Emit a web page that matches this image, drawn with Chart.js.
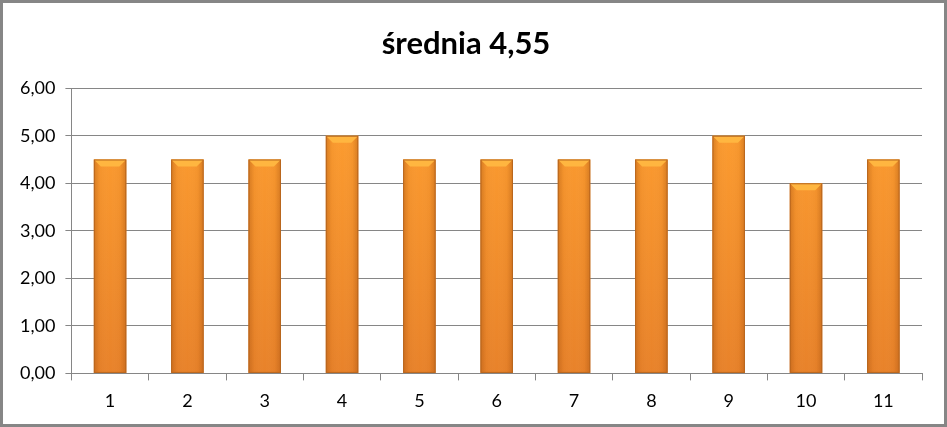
<!DOCTYPE html>
<html>
<head>
<meta charset="utf-8">
<script src="https://cdn.jsdelivr.net/npm/chart.js@4"></script>
<style>
  html, body { margin: 0; padding: 0; background: #fff; }
  #wrap {
    width: 947px; height: 427px; box-sizing: border-box;
    border: 3px solid #868686; position: relative;
  }
  canvas { display: block; }
</style>
</head>
<body>
<div id="wrap"><canvas id="chart"></canvas></div>
<script>
const categories = ["1", "2", "3", "4", "5", "6", "7", "8", "9", "10", "11"];
const values = [4.5, 4.5, 4.5, 5, 4.5, 4.5, 4.5, 4.5, 5, 4, 4.5];
const titleText = "średnia 4,55";

// bevel + side shading on each bar (uses bar element positions from the scales)
const bevel = {
  id: "bevel",
  afterDatasetsDraw(chart) {
    const ctx = chart.ctx;
    chart.getDatasetMeta(0).data.forEach((bar) => {
      const left = bar.x - bar.width / 2;
      const right = bar.x + bar.width / 2;
      const top = bar.y;
      const bottom = bar.base;
      const g = ctx.createLinearGradient(left, 0, right, 0);
      g.addColorStop(0, "rgba(150,70,10,0.35)");
      g.addColorStop(0.18, "rgba(150,70,10,0.05)");
      g.addColorStop(0.5, "rgba(255,255,255,0.0)");
      g.addColorStop(0.82, "rgba(150,70,10,0.05)");
      g.addColorStop(1, "rgba(150,70,10,0.35)");
      ctx.save();
      ctx.fillStyle = g;
      ctx.fillRect(left, top, right - left, bottom - top);
      const b = 7;
      ctx.beginPath();
      ctx.moveTo(left, top);
      ctx.lineTo(right, top);
      ctx.lineTo(right - b, top + b);
      ctx.lineTo(left + b, top + b);
      ctx.closePath();
      ctx.fillStyle = "#FFB640";
      ctx.fill();
      ctx.strokeStyle = "#B8661E";
      ctx.lineWidth = 1;
      ctx.strokeRect(left + 0.5, top + 0.5, right - left - 1, bottom - top - 1);
      ctx.restore();
    });
  }
};

const ctx = document.getElementById("chart").getContext("2d");
new Chart(ctx, {
  type: "bar",
  data: {
    labels: categories,
    datasets: [{
      data: values,
      backgroundColor: (c) => {
        const area = c.chart.chartArea;
        if (!area) return "#F79646";
        const g = c.chart.ctx.createLinearGradient(0, area.top, 0, area.bottom);
        g.addColorStop(0, "#FFA030");
        g.addColorStop(1, "#E8822A");
        return g;
      },
      borderWidth: 0,
      categoryPercentage: 1,
      barPercentage: 0.42
    }]
  },
  options: {
    responsive: true,
    maintainAspectRatio: false,
    animation: false,
    layout: { padding: { left: 7, right: 22, top: 0, bottom: 2 } },
    plugins: {
      legend: { display: false },
      tooltip: { enabled: false },
      title: {
        display: true,
        text: titleText,
        color: "#000",
        font: { family: "Lato", size: 31, weight: "bold" },
        padding: { top: 22, bottom: 26 }
      }
    },
    scales: {
      y: {
        min: 0,
        max: 6,
        ticks: {
          stepSize: 1,
          color: "#000",
          font: { family: "Lato", size: 18 },
          padding: 10,
          callback: (v) => v.toFixed(2).replace(".", ",")
        },
        grid: { color: "#868686", tickLength: 6, tickColor: "#868686" },
        border: { color: "#868686" }
      },
      x: {
        ticks: {
          color: "#000",
          font: { family: "Lato", size: 18 },
          padding: 10
        },
        grid: {
          drawOnChartArea: false,
          tickLength: 7,
          tickColor: "#868686",
          offset: true
        },
        border: { color: "#868686" }
      }
    }
  },
  plugins: [bevel]
});
</script>
</body>
</html>
